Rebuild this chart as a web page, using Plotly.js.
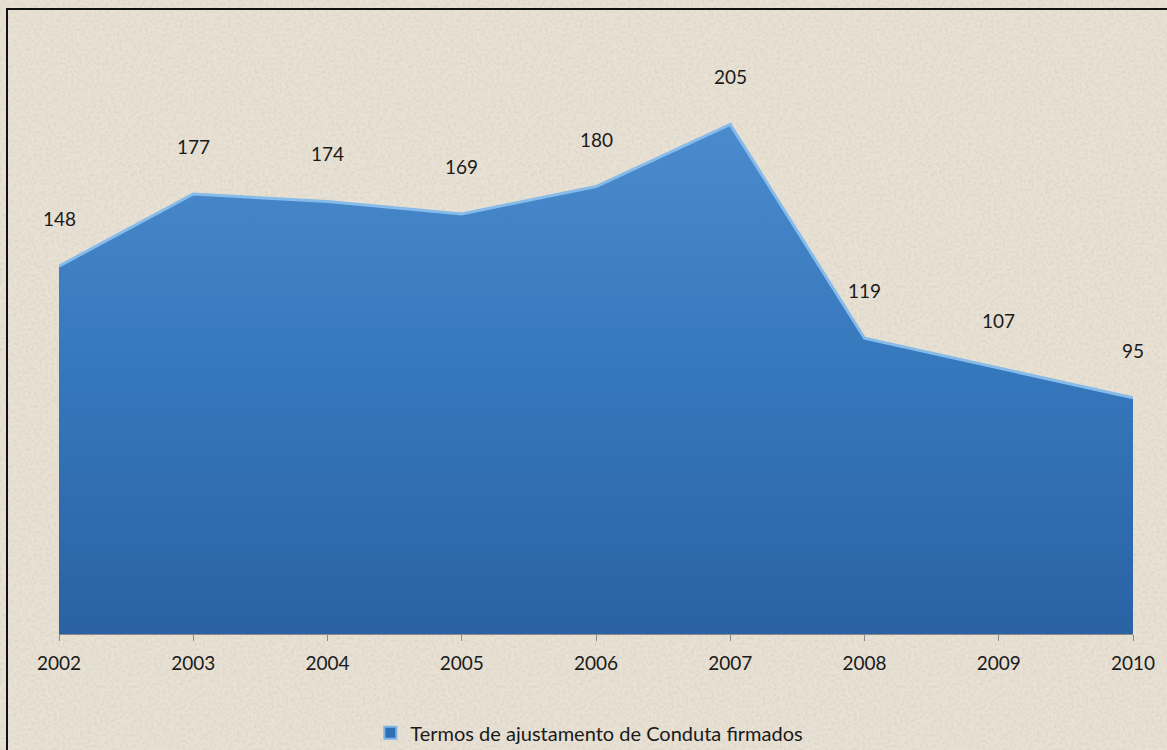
<!DOCTYPE html>
<html>
<head>
<meta charset="utf-8">
<script src="https://cdn.plot.ly/plotly-3.0.1.min.js"></script>
<style>
  html, body { margin:0; padding:0; width:1167px; height:750px; overflow:hidden; }
  body {
    background-color:#e8e1d4;
    background-image:url("data:image/svg+xml;utf8,<svg xmlns='http://www.w3.org/2000/svg' width='400' height='400'><filter id='n'><feTurbulence type='fractalNoise' baseFrequency='0.35' numOctaves='2' seed='7'/><feColorMatrix values='0 0 0 0 0.55  0 0 0 0 0.52  0 0 0 0 0.46  0 0 0 0.7 -0.28'/></filter><rect width='400' height='400' filter='url(%23n)'/></svg>");
  }
  #chart { position:absolute; left:0; top:0; width:1167px; height:750px; }
  #frame { position:absolute; left:6px; top:8px; width:1200px; height:800px;
           border-left:2px solid #111; border-top:2px solid #111; pointer-events:none; }
</style>
</head>
<body>
<div id="chart"></div>
<div id="frame"></div>
<script>
const years = [2002, 2003, 2004, 2005, 2006, 2007, 2008, 2009, 2010];
const termos = [148, 177, 174, 169, 180, 205, 119, 107, 95];
const seriesName = 'Termos de ajustamento de Conduta firmados';

const fontFam = 'Lato, "Open Sans", "DejaVu Sans", sans-serif';

const area = {
  x: years,
  y: termos,
  type: 'scatter',
  mode: 'lines',
  name: seriesName,
  showlegend: false,
  fill: 'tozeroy',
  fillgradient: {
    type: 'vertical',
    colorscale: [[0, '#2a62a4'], [0.5, '#3577bb'], [1, '#4b8bcd']]
  },
  fillcolor: '#3a7cc0',
  line: { color: '#86bbea', width: 3 },
  hoverinfo: 'x+y'
};

// legend swatch only (no data drawn)
const legendSwatch = {
  x: [null], y: [null],
  type: 'bar',
  name: seriesName,
  showlegend: true,
  marker: { color: '#2f6fb5', line: { color: '#7fb3e6', width: 1 } },
  hoverinfo: 'skip'
};

const annotations = years.map((yr, i) => ({
  x: yr, y: termos[i], xref: 'x', yref: 'y',
  text: String(termos[i]),
  showarrow: false,
  yanchor: 'bottom',
  yshift: 34,
  font: { family: fontFam, size: 19, color: '#1a1a1a' }
}));

const layout = {
  width: 1167, height: 750,
  margin: { l: 59, r: 34, t: 20, b: 116 },
  paper_bgcolor: 'rgba(0,0,0,0)',
  plot_bgcolor: 'rgba(0,0,0,0)',
  font: { family: fontFam, size: 19, color: '#1a1a1a' },
  xaxis: {
    range: [2002, 2010],
    tickmode: 'array',
    tickvals: years,
    ticktext: years.map(String),
    showgrid: false,
    zeroline: false,
    showline: true,
    linecolor: '#8a8a8a',
    linewidth: 1,
    ticks: 'outside',
    ticklen: 6,
    tickcolor: '#8a8a8a',
    ticklabelstandoff: 6,
    tickfont: { family: fontFam, size: 19, color: '#1a1a1a' },
    fixedrange: true
  },
  yaxis: {
    range: [0, 247],
    visible: false,
    showgrid: false,
    zeroline: false,
    fixedrange: true
  },
  bargap: 0,
  showlegend: true,
  legend: {
    orientation: 'h',
    x: 0.505, xanchor: 'center',
    xref: 'container',
    y: 0.023, yanchor: 'middle',
    yref: 'container',
    font: { family: fontFam, size: 20, color: '#1a1a1a' },
    bgcolor: 'rgba(0,0,0,0)',
    itemwidth: 30,
    itemsizing: 'constant'
  },
  annotations: annotations
};

Plotly.newPlot('chart', [area, legendSwatch], layout, { displayModeBar: false, staticPlot: true });
</script>
</body>
</html>
